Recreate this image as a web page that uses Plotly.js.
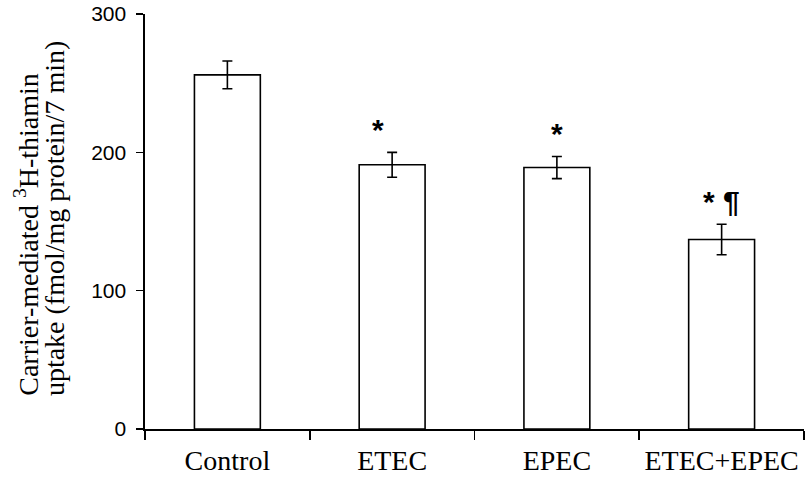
<!DOCTYPE html>
<html>
<head>
<meta charset="utf-8">
<script src="https://cdn.plot.ly/plotly-3.0.1.min.js"></script>
<style>html,body{margin:0;padding:0;background:#fff;}#chart{width:805px;height:480px;}</style>
</head>
<body>
<div id="chart"></div>
<script>
const categories = ['Control', 'ETEC', 'EPEC', 'ETEC+EPEC'];
const uptakeMeans = [256, 191, 189, 137];
const uptakeErrors = [10, 9, 8, 11];
const sigMarks = ['', '*', '*', '* \u00B6'];
const yTickValues = [0, 100, 200, 300];
const yTitleLines = ['Carrier-mediated <sup>3</sup>H-thiamin', 'uptake (fmol/mg protein/7 min)'];

const trace = {
  type: 'bar',
  x: categories,
  y: uptakeMeans,
  width: 0.4,
  marker: {color: '#ffffff', line: {color: '#000000', width: 1.6}},
  error_y: {type: 'data', array: uptakeErrors, visible: true, color: '#000000', thickness: 1.6, width: 5},
  hoverinfo: 'none'
};

const annotations = [];
categories.forEach((c, i) => {
  if (!sigMarks[i]) return;
  annotations.push({
    x: c, y: uptakeMeans[i] + uptakeErrors[i],
    xref: 'x', yref: 'y',
    text: '<b>' + sigMarks[i] + '</b>',
    showarrow: false,
    yanchor: 'bottom',
    yshift: 4,
    xshift: i === 1 ? -14 : 0,
    font: {family: 'Liberation Sans, Arial, sans-serif', size: 30, color: '#000'}
  });
});
const titleX = [-0.18, -0.137];
yTitleLines.forEach((t, i) => {
  annotations.push({
    xref: 'paper', yref: 'paper',
    x: titleX[i], y: 0.075,
    xanchor: 'center', yanchor: 'bottom',
    textangle: -90,
    text: t,
    showarrow: false,
    font: {family: 'Liberation Serif, Times New Roman, serif', size: 28, color: '#000'}
  });
});

const layout = {
  width: 805, height: 480,
  margin: {l: 145, r: 1, t: 14, b: 51, pad: 0},
  paper_bgcolor: '#fff', plot_bgcolor: '#fff',
  showlegend: false,
  xaxis: {
    type: 'category',
    range: [-0.5, 3.5],
    showline: true, linecolor: '#000', linewidth: 1.6,
    ticks: 'outside', tickson: 'boundaries', ticklen: 9, tickcolor: '#000', tickwidth: 1.6,
    showgrid: false, zeroline: false,
    ticklabelstandoff: 6,
    tickfont: {family: 'Liberation Serif, Times New Roman, serif', size: 28, color: '#000'}
  },
  yaxis: {
    range: [0, 300],
    tickvals: yTickValues,
    ticktext: yTickValues.map(String),
    showline: true, linecolor: '#000', linewidth: 1.6,
    ticks: 'outside', ticklen: 7, tickcolor: '#000', tickwidth: 1.6,
    showgrid: false, zeroline: false,
    ticklabelstandoff: 6,
    tickfont: {family: 'Liberation Sans, Arial, sans-serif', size: 21, color: '#000'}
  },
  annotations: annotations
};

Plotly.newPlot('chart', [trace], layout, {staticPlot: true, displayModeBar: false});
</script>
</body>
</html>
